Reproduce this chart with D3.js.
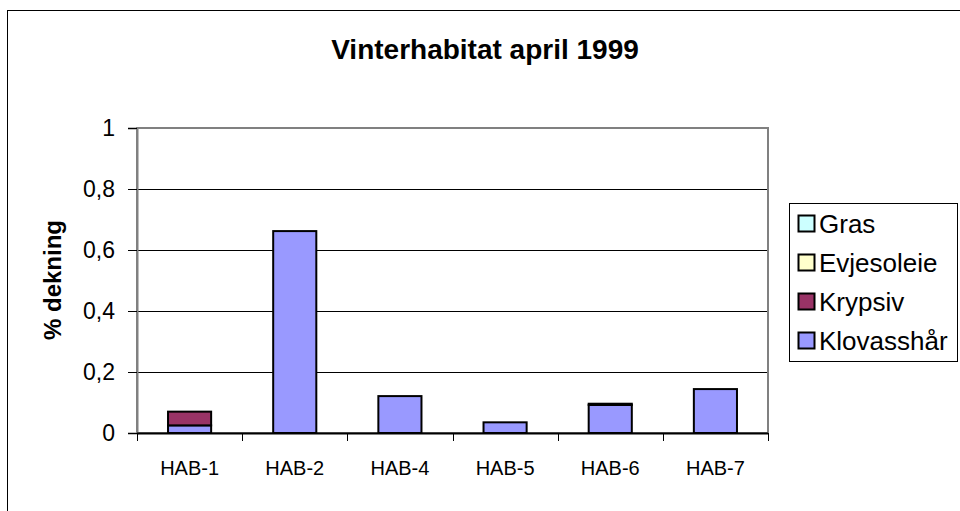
<!DOCTYPE html>
<html>
<head>
<meta charset="utf-8">
<script src="https://cdn.jsdelivr.net/npm/d3@7"></script>
<style>
  html, body { margin: 0; padding: 0; background: #fff; }
  svg { display: block; font-family: Arial, "Liberation Sans", sans-serif; }
</style>
</head>
<body>
<svg id="chart" width="960" height="511"></svg>
<script>
// Habitat plots
const categories = ["HAB-1", "HAB-2", "HAB-4", "HAB-5", "HAB-6", "HAB-7"];
// Stacked series, bottom to top
const seriesNames = ["Klovasshår", "Krypsiv", "Evjesoleie", "Gras"];
const klovasshar = [0.025, 0.662, 0.121, 0.035, 0.092, 0.144];
const krypsiv    = [0.045, 0, 0, 0, 0.004, 0];
const evjesoleie = [0, 0, 0, 0, 0, 0];
const gras       = [0, 0, 0, 0, 0, 0];
const yTicks = [0, 0.2, 0.4, 0.6, 0.8, 1];
const legendOrder = ["Gras", "Evjesoleie", "Krypsiv", "Klovasshår"];

const colors = {
  "Klovasshår": "#9999FF",
  "Krypsiv": "#993366",
  "Evjesoleie": "#FFFFCC",
  "Gras": "#CCFFFF"
};

const rows = categories.map((c, i) => ({
  cat: c,
  "Klovasshår": klovasshar[i],
  "Krypsiv": krypsiv[i],
  "Evjesoleie": evjesoleie[i],
  "Gras": gras[i]
}));

const svg = d3.select("#chart");
const plot = { left: 137, right: 768, top: 128, bottom: 433 };

// chart frame
svg.append("rect")
  .attr("x", 7.5).attr("y", 10.5)
  .attr("width", 1000).attr("height", 600)
  .attr("fill", "#fff").attr("stroke", "#000").attr("stroke-width", 1);

const x = d3.scaleBand().domain(categories)
  .range([plot.left, plot.right]).paddingInner(0.59).paddingOuter(0.295);
const xBand = d3.scaleBand().domain(categories).range([plot.left, plot.right]);
const y = d3.scaleLinear().domain([0, 1]).range([plot.bottom, plot.top]);

// grid lines
svg.append("g").selectAll("line").data(yTicks.filter(t => t > 0 && t < 1)).join("line")
  .attr("x1", plot.left).attr("x2", plot.right)
  .attr("y1", d => Math.round(y(d)) + 0.5).attr("y2", d => Math.round(y(d)) + 0.5)
  .attr("stroke", "#000").attr("stroke-width", 1);

// plot border (grey)
svg.append("rect")
  .attr("x", plot.left).attr("y", plot.top)
  .attr("width", plot.right - plot.left).attr("height", plot.bottom - plot.top)
  .attr("fill", "none").attr("stroke", "#808080").attr("stroke-width", 2);

// stacked bars
const stack = d3.stack().keys(seriesNames);
const layers = stack(rows);
svg.append("g").selectAll("g").data(layers).join("g")
  .attr("fill", d => colors[d.key])
  .selectAll("rect").data(d => d.filter(p => p[1] - p[0] > 0)).join("rect")
  .attr("x", d => x(d.data.cat))
  .attr("width", x.bandwidth())
  .attr("y", d => y(d[1]))
  .attr("height", d => y(d[0]) - y(d[1]))
  .attr("stroke", "#000").attr("stroke-width", 2);

// y axis
const yAxis = d3.axisLeft(y).tickValues(yTicks).tickSize(9)
  .tickFormat(d => String(d).replace(".", ","));
const gy = svg.append("g").attr("transform", `translate(${plot.left},0)`).call(yAxis);
gy.attr("font-size", null).attr("font-family", null);
gy.select(".domain").attr("stroke", "#808080").attr("stroke-width", 2);
gy.selectAll(".tick line").attr("stroke", "#000");
gy.selectAll(".tick text").style("font-size", "23px").attr("fill", "#000").attr("x", -22);

// x axis
const gx = svg.append("g").attr("transform", `translate(0,${plot.bottom})`);
gx.append("line").attr("x1", plot.left).attr("x2", plot.right)
  .attr("y1", 0.5).attr("y2", 0.5).attr("stroke", "#000").attr("stroke-width", 2);
const bounds = categories.map(c => xBand(c)).concat([plot.right]);
gx.selectAll("line.tk").data(bounds).join("line").attr("class", "tk")
  .attr("x1", d => Math.round(d) + 0.5).attr("x2", d => Math.round(d) + 0.5)
  .attr("y1", 0).attr("y2", 8).attr("stroke", "#000");
gx.selectAll("text").data(categories).join("text")
  .attr("x", d => xBand(d) + xBand.bandwidth() / 2)
  .attr("y", 42).attr("text-anchor", "middle")
  .style("font-size", "20px").attr("fill", "#000").text(d => d);

// title
svg.append("text").attr("x", 485).attr("y", 59).attr("text-anchor", "middle")
  .style("font-size", "28px").attr("font-weight", "bold").text("Vinterhabitat april 1999");

// y label
svg.append("text")
  .attr("transform", "translate(61,280) rotate(-90)")
  .attr("text-anchor", "middle").style("font-size", "24px").attr("font-weight", "bold")
  .text("% dekning");

// legend
const lg = svg.append("g");
lg.append("rect").attr("x", 789.5).attr("y", 203.5).attr("width", 168).attr("height", 158)
  .attr("fill", "#fff").attr("stroke", "#000").attr("stroke-width", 1);
const items = lg.selectAll("g.item").data(legendOrder).join("g").attr("class", "item")
  .attr("transform", (d, i) => `translate(798,${224 + i * 39})`);
items.append("rect").attr("x", 0.5).attr("y", -8.5).attr("width", 16).attr("height", 16)
  .attr("fill", d => colors[d]).attr("stroke", "#000").attr("stroke-width", 2);
items.append("text").attr("x", 21).attr("y", 9).style("font-size", "26px").text(d => d);
</script>
</body>
</html>
